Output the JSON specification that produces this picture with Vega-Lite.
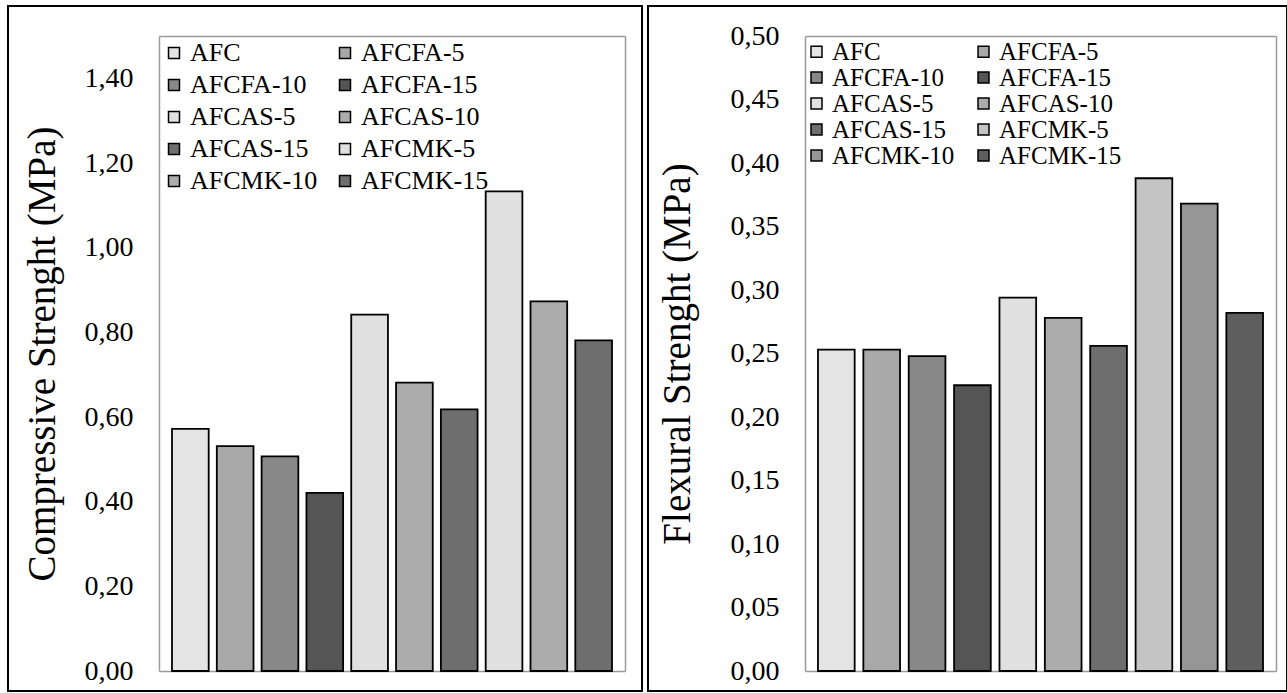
{
  "$schema": "https://vega.github.io/schema/vega-lite/v6.json",
  "background": "white",
  "padding": {"left": 7, "top": 5, "right": 0, "bottom": 0},
  "spacing": 4,
  "config": {
    "view": {"stroke": "black", "strokeWidth": 2},
    "font": "Liberation Serif",
    "axis": {"domainColor": "#9a9a9a", "domainWidth": 1.5, "ticks": false, "tickSize": 0, "grid": false}
  },
  "resolve": {"scale": {"color": "independent", "x": "independent", "y": "independent"}},
  "hconcat": [
    {
      "width": 634,
      "height": 685,
      "data": {"values": [
        {"mix": "AFC", "value": 0.572},
        {"mix": "AFCFA-5", "value": 0.531},
        {"mix": "AFCFA-10", "value": 0.507},
        {"mix": "AFCFA-15", "value": 0.421},
        {"mix": "AFCAS-5", "value": 0.842},
        {"mix": "AFCAS-10", "value": 0.681},
        {"mix": "AFCAS-15", "value": 0.618},
        {"mix": "AFCMK-5", "value": 1.133},
        {"mix": "AFCMK-10", "value": 0.873},
        {"mix": "AFCMK-15", "value": 0.781}
      ]},
      "resolve": {"axis": {"x": "independent", "y": "independent"}},
      "layer": [
        {
          "mark": {"type": "bar", "stroke": "black", "strokeWidth": 1.8},
          "encoding": {
            "x": {
              "field": "mix", "type": "nominal", "sort": null,
              "scale": {
                "domain": ["AFC","AFCFA-5","AFCFA-10","AFCFA-15","AFCAS-5","AFCAS-10","AFCAS-15","AFCMK-5","AFCMK-10","AFCMK-15"],
                "range": [151, 617], "paddingInner": 0.181, "paddingOuter": 0.29
              },
              "axis": {"orient": "bottom", "offset": -20, "labels": false, "title": null}
            },
            "y": {
              "field": "value", "type": "quantitative",
              "scale": {"domain": [0, 1.5], "range": [665, 30], "nice": false},
              "axis": {
                "orient": "left",
                "values": [0, 0.2, 0.4, 0.6, 0.8, 1.0, 1.2, 1.4],
                "labelExpr": "replace(format(datum.value, '.2f'), '.', ',')",
                "offset": -151,
                "labelPadding": 26, "labelFontSize": 28, "labelFont": "Liberation Serif", "labelColor": "black",
                "title": "Compressive Strenght (MPa)",
                "titleFont": "Liberation Serif", "titleFontSize": 39, "titleFontWeight": "normal", "titleColor": "black",
                "titlePadding": 22
              }
            },
            "color": {
              "field": "mix", "type": "nominal",
              "scale": {
                "domain": ["AFC","AFCFA-5","AFCFA-10","AFCFA-15","AFCAS-5","AFCAS-10","AFCAS-15","AFCMK-5","AFCMK-10","AFCMK-15"],
                "range": ["#e4e4e4","#a8a8a8","#888888","#555555","#e0e0e0","#acacac","#6e6e6e","#e0e0e0","#acacac","#6e6e6e"]
              },
              "legend": {
                "orient": "none", "legendX": 153, "legendY": 34, "columns": 2, "direction": "horizontal", "title": null,
                "symbolType": "square", "symbolSize": 121, "symbolStrokeColor": "black", "symbolStrokeWidth": 1.5,
                "labelFont": "Liberation Serif", "labelFontSize": 26, "labelColor": "black", "labelOffset": 3,
                "labelLimit": 300, "columnPadding": 14, "rowPadding": 6, "padding": 0
              }
            }
          }
        },
        {
          "mark": {"type": "bar", "opacity": 0},
          "encoding": {
            "x": {
              "field": "mix", "type": "nominal", "sort": null,
              "axis": {"orient": "top", "offset": -30, "labels": false, "title": null}
            },
            "y": {
              "field": "value", "type": "quantitative",
              "axis": {"orient": "right", "offset": -17, "labels": false, "title": null}
            }
          }
        }
      ]
    },
    {
      "width": 639,
      "height": 685,
      "data": {"values": [
        {"mix": "AFC", "value": 0.253},
        {"mix": "AFCFA-5", "value": 0.253},
        {"mix": "AFCFA-10", "value": 0.248},
        {"mix": "AFCFA-15", "value": 0.225},
        {"mix": "AFCAS-5", "value": 0.294},
        {"mix": "AFCAS-10", "value": 0.278},
        {"mix": "AFCAS-15", "value": 0.256},
        {"mix": "AFCMK-5", "value": 0.388},
        {"mix": "AFCMK-10", "value": 0.368},
        {"mix": "AFCMK-15", "value": 0.282}
      ]},
      "resolve": {"axis": {"x": "independent", "y": "independent"}},
      "layer": [
        {
          "mark": {"type": "bar", "stroke": "black", "strokeWidth": 1.8},
          "encoding": {
            "x": {
              "field": "mix", "type": "nominal", "sort": null,
              "scale": {
                "domain": ["AFC","AFCFA-5","AFCFA-10","AFCFA-15","AFCAS-5","AFCAS-10","AFCAS-15","AFCMK-5","AFCMK-10","AFCMK-15"],
                "range": [157, 628], "paddingInner": 0.1916, "paddingOuter": 0.286
              },
              "axis": {"orient": "bottom", "offset": -20, "labels": false, "title": null}
            },
            "y": {
              "field": "value", "type": "quantitative",
              "scale": {"domain": [0, 0.5], "range": [665, 30], "nice": false},
              "axis": {
                "orient": "left",
                "values": [0, 0.05, 0.1, 0.15, 0.2, 0.25, 0.3, 0.35, 0.4, 0.45, 0.5],
                "labelExpr": "replace(format(datum.value, '.2f'), '.', ',')",
                "offset": -157,
                "labelPadding": 26, "labelFontSize": 28, "labelFont": "Liberation Serif", "labelColor": "black",
                "title": "Flexural Strenght (MPa)",
                "titleFont": "Liberation Serif", "titleFontSize": 39, "titleFontWeight": "normal", "titleColor": "black",
                "titlePadding": 33
              }
            },
            "color": {
              "field": "mix", "type": "nominal",
              "scale": {
                "domain": ["AFC","AFCFA-5","AFCFA-10","AFCFA-15","AFCAS-5","AFCAS-10","AFCAS-15","AFCMK-5","AFCMK-10","AFCMK-15"],
                "range": ["#e4e4e4","#a8a8a8","#888888","#555555","#e0e0e0","#acacac","#6e6e6e","#c4c4c4","#969696","#5e5e5e"]
              },
              "legend": {
                "orient": "none", "legendX": 156, "legendY": 33, "columns": 2, "direction": "horizontal", "title": null,
                "symbolType": "square", "symbolSize": 121, "symbolStrokeColor": "black", "symbolStrokeWidth": 1.5,
                "labelFont": "Liberation Serif", "labelFontSize": 25, "labelColor": "black", "labelOffset": 3,
                "labelLimit": 300, "columnPadding": 16, "rowPadding": 0, "padding": 0
              }
            }
          }
        },
        {
          "mark": {"type": "bar", "opacity": 0},
          "encoding": {
            "x": {
              "field": "mix", "type": "nominal", "sort": null,
              "axis": {"orient": "top", "offset": -30, "labels": false, "title": null}
            },
            "y": {
              "field": "value", "type": "quantitative",
              "axis": {"orient": "right", "offset": -11, "labels": false, "title": null}
            }
          }
        }
      ]
    }
  ]
}
